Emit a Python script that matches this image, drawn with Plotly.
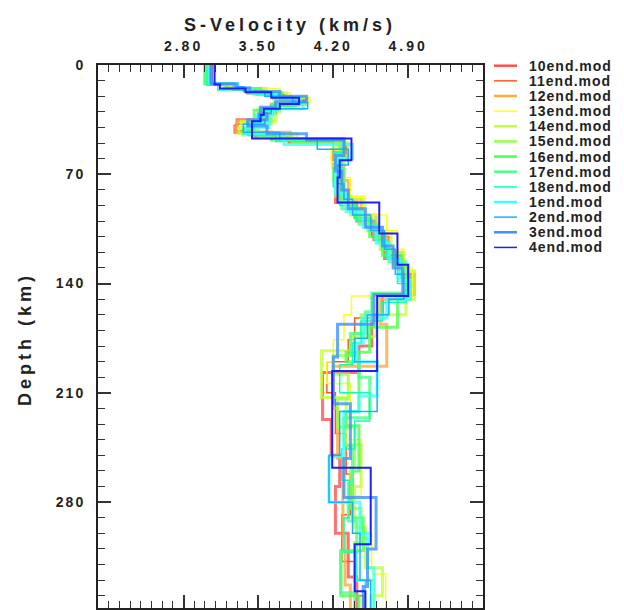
import plotly.graph_objects as go

# ---------------- data ----------------
model_names = ["10end.mod", "11end.mod", "12end.mod", "13end.mod", "14end.mod",
               "15end.mod", "16end.mod", "17end.mod", "18end.mod", "1end.mod",
               "2end.mod", "3end.mod", "4end.mod"]

# layer-top depths (km) and S velocities (km/s) for each model
d10 = [0, 12, 15, 18, 21, 25, 28, 31, 35, 39, 43, 47, 56, 66, 74, 88, 100, 112, 124, 134, 147, 160, 180, 197, 227, 250, 270, 300, 328]
v10 = [3.04, 3.22, 3.40, 3.68, 3.94, 3.68, 3.66, 3.50, 3.30, 3.28, 3.62, 4.30, 4.20, 4.28, 4.22, 4.42, 4.58, 4.68, 4.82, 4.96, 4.66, 4.56, 4.44, 4.10, 4.18, 4.26, 4.22, 4.34, 4.42]

d11 = [0, 13, 16, 19, 22, 26, 30, 34, 38, 42, 46, 50, 60, 72, 86, 98, 110, 122, 136, 148, 162, 176, 190, 210, 236, 262, 288, 318, 340]
v11 = [3.07, 3.26, 3.56, 3.74, 3.92, 3.66, 3.60, 3.52, 3.29, 3.46, 3.78, 4.32, 4.24, 4.26, 4.40, 4.56, 4.72, 4.86, 4.94, 4.56, 4.40, 4.34, 4.14, 4.22, 4.32, 4.36, 4.28, 4.40, 4.48]

d12 = [0, 12, 15, 18, 21, 25, 28, 32, 36, 40, 43, 47, 54, 62, 74, 86, 96, 108, 120, 136, 150, 166, 193, 220, 252, 302, 333]
v12 = [3.05, 3.20, 3.52, 3.64, 3.90, 3.62, 3.56, 3.58, 3.30, 3.29, 3.80, 4.26, 4.20, 4.30, 4.34, 4.46, 4.60, 4.70, 4.84, 4.90, 4.64, 4.70, 4.20, 4.24, 4.29, 4.31, 4.36]

d13 = [0, 12, 15, 18, 21, 24, 28, 32, 36, 40, 44, 48, 54, 62, 72, 84, 96, 106, 118, 130, 148, 160, 176, 190, 204, 226, 240, 276, 300, 326]
v13 = [3.00, 3.24, 3.70, 3.80, 3.98, 3.70, 3.58, 3.54, 3.48, 3.38, 3.70, 4.22, 4.18, 4.24, 4.36, 4.50, 4.70, 4.80, 4.86, 4.94, 4.37, 4.30, 4.20, 4.14, 4.36, 4.28, 4.46, 4.38, 4.56, 4.69]

d14 = [0, 12, 15, 18, 21, 25, 28, 32, 36, 40, 44, 48, 55, 63, 74, 86, 98, 108, 120, 132, 150, 160, 174, 183, 213, 243, 270, 296, 322, 340]
v14 = [3.01, 3.22, 3.58, 3.76, 3.96, 3.66, 3.50, 3.66, 3.34, 3.32, 3.86, 4.24, 4.30, 4.20, 4.26, 4.48, 4.62, 4.74, 4.86, 4.96, 4.88, 4.60, 4.37, 4.09, 4.32, 4.46, 4.40, 4.50, 4.66, 4.55]

d15 = [0, 12, 15, 19, 22, 26, 30, 34, 38, 42, 46, 50, 58, 70, 84, 96, 106, 118, 128, 148, 160, 172, 186, 198, 214, 232, 258, 284, 306, 330]
v15 = [3.03, 3.18, 3.46, 3.64, 3.82, 3.70, 3.54, 3.62, 3.42, 3.50, 3.82, 4.34, 4.26, 4.22, 4.36, 4.52, 4.64, 4.76, 4.90, 4.62, 4.46, 4.40, 4.20, 4.34, 4.24, 4.40, 4.36, 4.46, 4.40, 4.58]

d16 = [0, 12, 15, 18, 22, 26, 29, 33, 37, 41, 44, 48, 56, 64, 76, 88, 98, 110, 122, 136, 150, 168, 184, 190, 222, 231, 260, 290, 311, 340]
v16 = [3.00, 3.26, 3.52, 3.72, 3.86, 3.62, 3.46, 3.56, 3.40, 3.36, 3.62, 4.30, 4.22, 4.26, 4.30, 4.40, 4.54, 4.66, 4.84, 4.92, 4.80, 4.54, 4.32, 4.44, 4.32, 4.44, 4.38, 4.48, 4.27, 4.44]

d17 = [0, 12, 15, 18, 21, 25, 29, 33, 36, 41, 45, 48, 57, 67, 80, 92, 102, 114, 126, 146, 158, 172, 186, 200, 226, 244, 268, 292, 312, 338]
v17 = [3.00, 3.20, 3.40, 3.66, 3.90, 3.64, 3.50, 3.60, 3.46, 3.42, 3.68, 4.28, 4.24, 4.30, 4.28, 4.44, 4.62, 4.72, 4.88, 4.56, 4.50, 4.36, 4.44, 4.54, 4.30, 4.38, 4.34, 4.42, 4.27, 4.40]

d18 = [0, 13, 16, 19, 22, 26, 29, 33, 37, 41, 45, 49, 56, 66, 78, 90, 100, 112, 124, 140, 152, 164, 178, 192, 210, 228, 246, 266, 290, 312, 330]
v18 = [3.02, 3.12, 3.48, 3.70, 3.84, 3.68, 3.55, 3.52, 3.44, 3.40, 3.66, 4.20, 4.28, 4.20, 4.26, 4.42, 4.58, 4.70, 4.80, 4.88, 4.66, 4.46, 4.38, 4.26, 4.54, 4.40, 4.28, 4.35, 4.30, 4.42, 4.50]

d1 = [0, 12, 15, 18, 21, 25, 28, 32, 36, 40, 44, 51, 60, 70, 82, 94, 104, 114, 124, 138, 150, 162, 178, 190, 212, 222, 251, 280, 300, 322]
v1 = [3.04, 3.31, 3.44, 3.66, 3.80, 3.92, 3.64, 3.48, 3.60, 3.38, 3.74, 4.38, 4.24, 4.22, 4.32, 4.48, 4.60, 4.72, 4.82, 4.92, 4.70, 4.48, 4.42, 4.61, 4.44, 4.30, 4.16, 4.45, 4.52, 4.58]

d2 = [0, 12, 14, 17, 20, 24, 28, 31, 35, 38, 43, 47, 54, 64, 76, 86, 96, 106, 118, 134, 150, 160, 175, 190, 222, 250, 280, 300, 330]
v2 = [3.05, 3.28, 3.36, 3.56, 3.82, 3.96, 3.62, 3.50, 3.56, 3.36, 3.70, 4.05, 4.34, 4.24, 4.30, 4.38, 4.55, 4.68, 4.78, 4.86, 4.72, 4.52, 4.40, 4.61, 4.26, 4.16, 4.38, 4.45, 4.55]

d3 = [0, 12, 14.5, 17, 20, 23.5, 27, 31, 35, 39, 44, 48, 58, 68, 80, 92, 104, 116, 130, 147, 166, 187, 217, 252, 277, 310, 334]
v3 = [3.06, 3.30, 3.42, 3.70, 3.95, 3.66, 3.52, 3.58, 3.40, 3.58, 3.95, 4.30, 4.22, 4.28, 4.34, 4.50, 4.66, 4.76, 4.85, 4.58, 4.24, 4.20, 4.36, 4.30, 4.60, 4.52, 4.48]

d4 = [0, 12.5, 15, 17.5, 21, 25, 28, 32, 36, 47, 61, 72, 88, 108, 128, 148, 196, 258, 307, 337]
v4 = [3.09, 3.14, 3.38, 3.62, 3.88, 3.70, 3.55, 3.52, 3.44, 4.37, 4.26, 4.24, 4.63, 4.80, 4.90, 4.61, 4.19, 4.55, 4.40, 4.50]

depths = [d10, d11, d12, d13, d14, d15, d16, d17, d18, d1, d2, d3, d4]
vels = [v10, v11, v12, v13, v14, v15, v16, v17, v18, v1, v2, v3, v4]

colors = ["#ff5050", "#ff5a1e", "#ffaa40", "#ffff1e", "#c4ff3c", "#96ff50",
          "#4cff4c", "#4cff8c", "#10ffb0", "#40ffff", "#10b4ff", "#4090ff", "#1e1eff"]
widths = [3, 1.5, 3, 1.5, 3, 3, 3, 3, 1.5, 3, 1.5, 3, 2]

x_tickvals = [2.8, 3.5, 4.2, 4.9]
x_ticklabels = ["2.80", "3.50", "4.20", "4.90"]
y_tickvals = [0, 70, 140, 210, 280]
y_ticklabels = ["0", "70", "140", "210", "280"]

x_range = [2.0, 5.6]
y_range = [347.8, 0]
max_depth = 350

# ---------------- layout geometry ----------------
W, H = 624, 610
L, T = 98, 65
PW, PH = 385, 545


def px_x(x):
    return (x - L) / PW


def px_y(y):
    return 1 - (y - T) / PH


FONT = "Liberation Sans, Arial, Helvetica, sans-serif"


def spaced(s, sp):
    return '<span style="letter-spacing:%spx">%s</span>' % (sp, s)


fig = go.Figure()
for name, d, v, c, w in zip(model_names, depths, vels, colors, widths):
    fig.add_trace(go.Scatter(
        x=v + [v[-1]], y=d + [max_depth], mode="lines", name=name,
        line=dict(color=c, width=w, shape="vh"),
        opacity=0.8 if w >= 3 else 1.0, showlegend=False, hoverinfo="skip"))

tickfont = dict(family=FONT, size=14, color="#222", weight="bold")

fig.update_xaxes(
    range=x_range, side="top", showgrid=False, zeroline=False,
    showline=True, linecolor="#222", linewidth=2, mirror="allticks",
    ticks="inside", ticklen=13, tickwidth=1.6, tickcolor="#333",
    tickmode="array", tickvals=x_tickvals,
    ticktext=[spaced(t, 3) for t in x_ticklabels],
    tickfont=tickfont, ticklabelstandoff=6,
    minor=dict(tickmode="linear", tick0=2.0, dtick=0.1, ticks="inside",
               ticklen=7, tickwidth=1.4, tickcolor="#333"))
fig.update_yaxes(
    range=y_range, showgrid=False, zeroline=False,
    showline=True, linecolor="#222", linewidth=2, mirror="allticks",
    ticks="inside", ticklen=13, tickwidth=1.6, tickcolor="#333",
    tickmode="array", tickvals=y_tickvals,
    ticktext=[spaced(t, 2) for t in y_ticklabels],
    tickfont=tickfont, ticklabelstandoff=8,
    minor=dict(tickmode="linear", tick0=0, dtick=10, ticks="inside",
               ticklen=7, tickwidth=1.4, tickcolor="#333"))

annotations = [
    dict(text=spaced("S-Velocity (km/s)", 4), x=px_x(290), y=px_y(25),
         xref="paper", yref="paper", xanchor="center", yanchor="middle",
         showarrow=False, font=dict(family=FONT, size=18, color="#222", weight="bold")),
    dict(text=spaced("Depth (km)", 4), x=px_x(25), y=px_y(340),
         xref="paper", yref="paper", xanchor="center", yanchor="middle",
         textangle=-90, showarrow=False,
         font=dict(family=FONT, size=18, color="#222", weight="bold")),
]
shapes = []
for i, (name, c, w) in enumerate(zip(model_names, colors, widths)):
    yy = 65.7 + 15.2 * i
    shapes.append(dict(type="line", xref="paper", yref="paper",
                       x0=px_x(494), x1=px_x(517), y0=px_y(yy), y1=px_y(yy),
                       line=dict(color=c, width=2.5 if w >= 3 else 1.5)))
    annotations.append(dict(text=spaced(name, 1), x=px_x(527), y=px_y(yy),
                            xref="paper", yref="paper", xanchor="left", yanchor="middle",
                            showarrow=False,
                            font=dict(family=FONT, size=14, color="#222", weight="bold")))

fig.update_layout(
    width=W, height=H, margin=dict(l=L, r=W - L - PW, t=T, b=H - T - PH, pad=0),
    paper_bgcolor="white", plot_bgcolor="white", showlegend=False,
    annotations=annotations, shapes=shapes)

fig.write_html("out.html")
